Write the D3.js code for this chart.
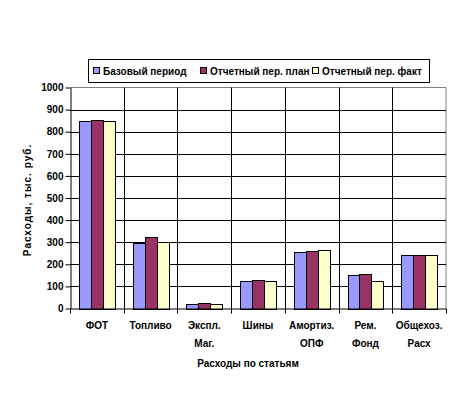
<!DOCTYPE html>
<html><head><meta charset="utf-8">
<script src="https://cdn.jsdelivr.net/npm/d3@7"></script>
<style>body{margin:0;background:#fff}svg{display:block}text{font-family:"Liberation Sans",Arial,sans-serif;font-weight:bold;font-size:10px;fill:#000}</style>
</head><body><div id="chart"></div>
<script>
const categories = [["ФОТ"],["Топливо"],["Экспл.","Маг."],["Шины"],["Амортиз.","ОПФ"],["Рем.","Фонд"],["Общехоз.","Расх"]];
const seriesNames = ["Базовый период","Отчетный пер. план","Отчетный пер. факт"];
const base = [850,295,20,125,255,150,240];
const plan = [855,325,25,130,260,155,240];
const fact = [850,300,20,125,265,125,240];
const yTicks = [0,100,200,300,400,500,600,700,800,900,1000];
const colors = ["#9999FF","#993366","#FFFFCC"];
const series = [base, plan, fact];

const W=460,H=394;
const svg=d3.select("#chart").append("svg").attr("width",W).attr("height",H);
const L=70,R=446,T=87.5,B=308.5;
const x=d3.scaleBand().domain(d3.range(categories.length)).range([L,R]).paddingInner(0).paddingOuter(0);
const xs=d3.scaleBand().domain(d3.range(3)).range([0,x.bandwidth()]).paddingInner(0).paddingOuter(0.75);
const y=d3.scaleLinear().domain([0,1000]).range([B,T]);

svg.append("path").attr("d",`M${L},${T}H${R}V${B}`).attr("fill","none").attr("stroke","#808080");
svg.append("g").selectAll("line").data(yTicks.filter(d=>d>0&&d<1000)).join("line")
 .attr("x1",L).attr("x2",R).attr("y1",d=>Math.round(y(d))+0.5).attr("y2",d=>Math.round(y(d))+0.5).attr("stroke","#000");
svg.append("g").selectAll("line").data(d3.range(1,categories.length)).join("line")
 .attr("x1",d=>Math.round(x(d))+0.5).attr("x2",d=>Math.round(x(d))+0.5).attr("y1",T).attr("y2",B).attr("stroke","#000");

series.forEach((s,si)=>{
 svg.append("g").selectAll("rect").data(s).join("rect")
  .attr("x",(d,i)=>Math.round(x(i)+xs(si))+0.5)
  .attr("width",Math.round(xs.bandwidth()))
  .attr("y",d=>Math.round(y(d))+0.5)
  .attr("height",d=>Math.round(B)-Math.round(y(d)))
  .attr("fill",colors[si]).attr("stroke","#000").attr("stroke-width",1);
});

const ya=svg.append("g").attr("transform",`translate(${L+0.5},0)`).call(d3.axisLeft(y).tickValues(yTicks).tickSize(5).tickSizeOuter(0).tickFormat(d3.format("d")));
ya.select(".domain").attr("stroke","#000");
ya.selectAll("text").attr("font-size",10).attr("font-family",null).attr("x",-7);
const xa=svg.append("g").attr("transform",`translate(0,${B})`);
xa.append("line").attr("x1",L).attr("x2",R).attr("y1",0.5).attr("y2",0.5).attr("stroke","#000");
xa.selectAll("line.t").data(d3.range(categories.length+1)).join("line").attr("class","t")
 .attr("x1",d=>Math.round(d<categories.length?x(d):R)+0.5).attr("x2",d=>Math.round(d<categories.length?x(d):R)+0.5)
 .attr("y1",0).attr("y2",5).attr("stroke","#000");
categories.forEach((c,i)=>{
 c.forEach((line,j)=>{
  svg.append("text").attr("x",x(i)+x.bandwidth()/2).attr("y",329+j*18).attr("text-anchor","middle").text(line);
 });
});
svg.append("text").attr("x",(L+R)/2-10).attr("y",367).attr("text-anchor","middle").text("Расходы по статьям");
svg.append("text").attr("transform","translate(31,200) rotate(-90)").attr("text-anchor","middle").attr("letter-spacing","1px").text("Расходы, тыс. руб.");

const lg=svg.append("g");
lg.append("rect").attr("x",88.5).attr("y",59.5).attr("width",341).attr("height",23).attr("fill","#fff").attr("stroke","#000");
const lx=[93,200,312];
seriesNames.forEach((n,i)=>{
 lg.append("rect").attr("x",lx[i]+0.5).attr("y",67.5).attr("width",6).attr("height",6).attr("fill",colors[i]).attr("stroke","#000");
 lg.append("text").attr("x",lx[i]+10).attr("y",75).text(n);
});
</script></body></html>
